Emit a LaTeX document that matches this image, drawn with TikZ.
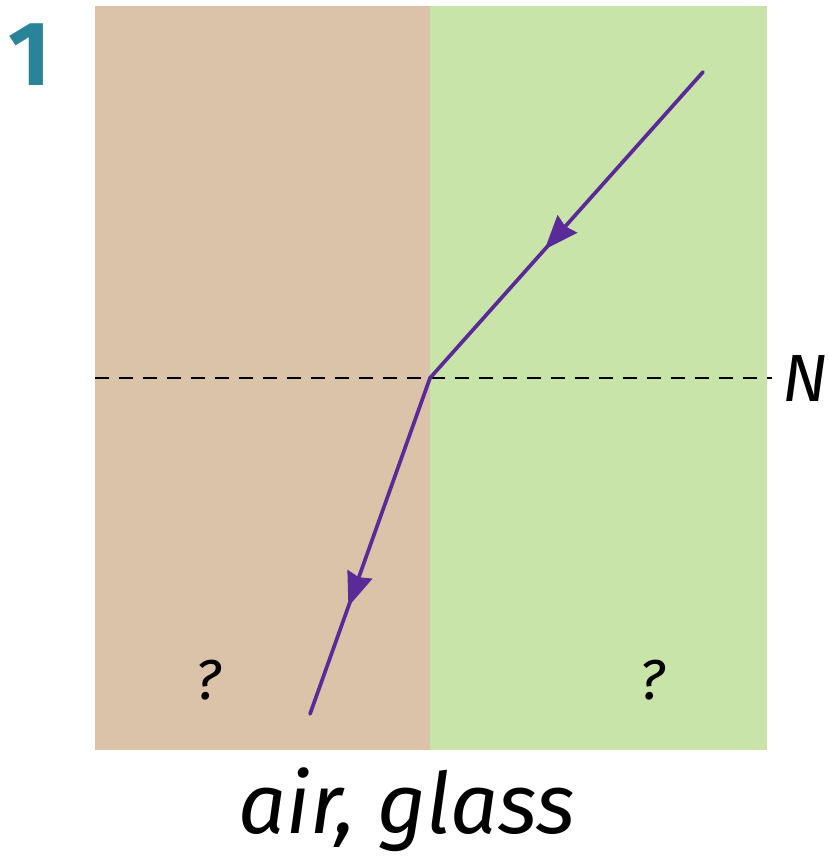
\documentclass[tikz,border=0pt]{standalone}
\usepackage{fontspec}
\setmainfont{Fira Sans}
\usepackage{xcolor}
\usetikzlibrary{arrows.meta, decorations.markings, positioning}
\definecolor{airtan}{HTML}{DBC3AA}
\definecolor{glassgreen}{HTML}{C9E4A8}
\definecolor{raypurple}{HTML}{5A2A98}
\definecolor{numteal}{HTML}{2A8499}

\begin{document}
\begin{tikzpicture}[
                        x=0.2mm, y=-0.2mm,
                        ray/.style     = {draw=raypurple, line width=2.1pt, line cap=round},
                        midarrow/.style= {postaction={decorate}, decoration={markings,
                                          mark=at position #1 with {\arrow{Stealth[length=6.8mm,width=5.2mm,inset=0.6mm]}}}},
                        normal/.style  = {dashed, dash pattern=on 2.8mm off 2mm, line width=1.3pt},
                        lbl/.style     = {font=\fontsize{32}{38}\selectfont\itshape, inner sep=0pt}
                  ]
                  \useasboundingbox (0,0) rectangle (828,856);
                  \fill[airtan]     (95,6) rectangle (430,750);
                  \fill[glassgreen] (430,6) rectangle (767,750);

                  \node[font=\fontsize{52}{60}\selectfont\bfseries, text=numteal, inner sep=0pt] (num) at (30,55) {1};

                  \coordinate (left)  at (95,378);
                  \coordinate (right) at (772,378);
                  \coordinate (hit)   at (430,378);
                  \coordinate (src)   at (703,72);
                  \coordinate (dst)   at (310,714);

                  \draw[normal] (left) -- (right);
                  \node[lbl, font=\fontsize{38}{44}\selectfont\itshape, right=6pt of right] (N) {N};

                  \draw[ray, midarrow=0.58] (src) -- (hit);
                  \draw[ray, midarrow=0.68] (hit) -- (dst);

                  \node[lbl] (qleft)  at (208,680) {?};
                  \node[lbl] (qright) at (652,680) {?};
                  \node[font=\fontsize{48}{56}\selectfont\itshape] (media) at (407,810) {air, glass};
            \end{tikzpicture}
\end{document}
